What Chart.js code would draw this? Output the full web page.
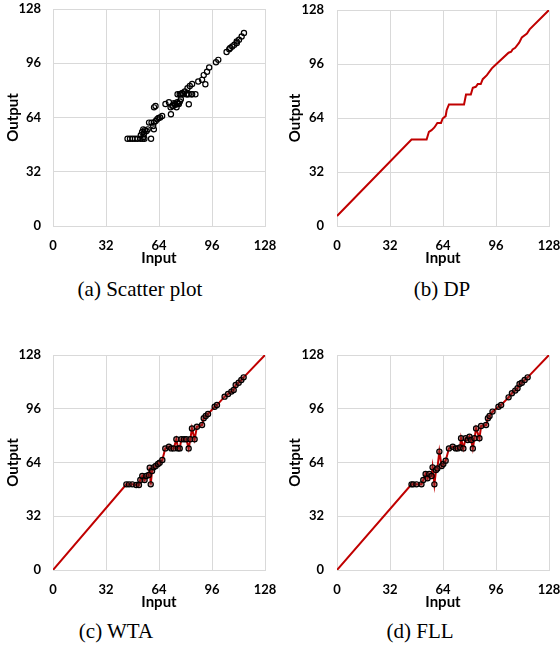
<!DOCTYPE html>
<html>
<head>
<meta charset="utf-8">
<script src="https://cdn.jsdelivr.net/npm/chart.js@4.4.0/dist/chart.umd.min.js"></script>
<style>
body{margin:0;background:#fff;width:560px;height:653px;position:relative;overflow:hidden;}
canvas{position:absolute;}
.cap{position:absolute;font-family:"Liberation Serif","Times New Roman",serif;font-size:21px;color:#000;white-space:nowrap;transform:translateX(-50%);}
</style>
</head>
<body>
<canvas id="cA" width="280" height="270" style="left:0;top:0"></canvas>
<canvas id="cB" width="280" height="270" style="left:280px;top:0"></canvas>
<canvas id="cC" width="280" height="274" style="left:0;top:340px"></canvas>
<canvas id="cD" width="280" height="274" style="left:280px;top:340px"></canvas>
<div class="cap" style="left:140px;top:277px">(a) Scatter plot</div>
<div class="cap" style="left:442px;top:277px">(b) DP</div>
<div class="cap" style="left:116px;top:619px">(c) WTA</div>
<div class="cap" style="left:420px;top:619px">(d) FLL</div>
<script>
// axis ticks (same for all four plots)
var axisMin = 0;
var axisMax = 128;
var axisStep = 32;

// (a) scatter plot: input / output pairs
var scatterX = [45,46.5,48,49.5,51,52.8,54.2,55.2,59.2,
  53,53.8,54.5,55.5,56.5,57.2,54.6,55,
  58,59.5,60.9,60.9,60.5,62,62.9,63.7,64.7,65.9,
  61,61.9,
  67.9,70,71.2,71,72.6,73.6,74.6,75.6,76.6,77.2,72,73,74,75,76,
  75.2,77.2,78.6,79.6,80.6,82,83.6,86,76.5,78,81,84,
  82,81.2,82.6,84,87.7,90,92,91,93,94.3,98.4,99.8,
  104.8,106.4,108.2,109.5,110.9,112.3,113.9,115.3,107,111];
var scatterY = [51.5,51.5,51.5,51.5,51.5,51.5,51.5,51.5,51.5,
  53.5,55.5,57,56.5,56,57,52.5,54.5,
  61,61,61,57,59,62,63,63.7,64,64.9,
  70,70.8,
  72,73,65.9,70,70.8,72,70,72.4,73.4,74.8,71,72.5,71.5,73,72,
  77.7,77.7,77.7,79.3,77.7,77.7,77.7,77.7,77.7,78.5,77.7,77.7,
  71.8,81.3,82.6,83.8,85.2,86.2,83.6,89,91,93.5,96.6,98,
  102.6,104.3,105.9,106.9,108.9,109.9,111.8,113.8,105,108];

// (b) DP mapping curve
var dpX = [0,45,54.1,55.5,57.1,58.8,60.6,62.8,63.8,65.6,
  66.2,67.6,76.7,77.9,80.8,82,83.8,85,86.8,88,
  90.5,93.5,96.1,103.6,105.2,106,107.6,110,111.6,114.7,
  116.3,128];
var dpY = [5.9,51.2,51.2,55.8,56.8,58.4,61.1,61.1,63.7,65.1,
  68.6,72,72,77.9,77.9,81.9,82.5,84.1,84.1,87,
  89.4,93.4,95.9,102.7,103.3,104.6,105.6,108.6,111.8,114.1,
  116.5,128];

// (c) WTA selected points
var wtaX = [44.3,45.9,47.9,50.3,51.9,52.7,53.9,55.3,56.3,57.8,
  58.4,59,59.8,60.8,62,63.4,64.4,66,67.8,70,
  71.4,72.9,74.5,75.5,76.5,77.5,79.1,80.5,81.9,82.9,
  83.9,85.5,86.9,90,91,92.2,93.6,97.6,99,103.6,
  105.7,107.7,109.1,110.3,112.1,113.7,115.1];
var wtaY = [51,51,51,50.6,50.6,53.6,56,53.6,56,56.6,
  60.9,51,58.9,61.1,61.9,63.1,63.9,65.5,72.4,73.4,
  72.4,72.4,77.8,72.4,72.4,77.8,77.8,77.8,72.4,77.8,
  84.3,77.8,85.3,86.3,90.3,91.7,92.9,97.2,98.2,103.2,
  104.8,106.2,107.2,110.1,111.5,113.1,114.7];

// (d) FLL selected points
var fllX = [45,46,48,51,52.1,53.5,54.7,55.7,57.1,57.7,
  58.8,59.8,60.6,61.8,63.2,64.2,65.6,67.6,69.9,71.7,
  72.9,74.3,74.9,76.3,77.7,78.9,80,81,82,83,
  84,86,87,90,91.1,92.1,93.9,97.5,99.1,103.6,
  105.6,107.6,109,110.2,111.6,113.3,115.1];
var fllY = [51,51,51,51,53.6,57.2,54.6,57.2,56,61.1,
  51,59.5,60.5,70.5,61.9,63.1,65.1,72.4,73.4,72.4,
  72.4,73,78.4,72.4,78.4,77.4,79.4,77.4,72.4,78.4,
  84.3,78.4,85.7,86.3,90.3,91.7,94.3,97.2,98.2,102.8,
  105.2,106.8,108.2,110.7,111.5,113.1,114.7];

// mapping line ends for (c) and (d)
var lineStart = [0, 0];
var lineEnd = [128, 128];

var red = '#c00000';
var gridCol = '#d9d9d9';
var tickFont = {family: 'Lato', size: 13, weight: 'bold'};
var titleFont = {family: 'Lato', size: 15, weight: 'bold'};

function pts(xs, ys) {
  var out = [];
  for (var i = 0; i < xs.length; i++) {
    out.push({x: xs[i], y: ys[i]});
  }
  return out;
}

function markerSet(xs, ys, fill) {
  return {
    data: pts(xs, ys),
    showLine: false,
    pointRadius: 2.6,
    pointBorderWidth: 1.2,
    pointBorderColor: '#000',
    pointBackgroundColor: fill
  };
}

function lineSet(xs, ys) {
  return {
    data: pts(xs, ys),
    showLine: true,
    borderColor: red,
    borderWidth: 2,
    pointRadius: 0,
    tension: 0
  };
}

function withEnds(arr, i) {
  return [lineStart[i]].concat(arr).concat([lineEnd[i]]);
}

// plot box is in canvas pixels
function makePanel(id, plot, datasets) {
  var cv = document.getElementById(id);
  var xh = cv.height - plot.bottom;
  return new Chart(cv, {
    type: 'scatter',
    data: {datasets: datasets},
    options: {
      responsive: false,
      animation: false,
      layout: {padding: {left: 0, top: plot.top, right: cv.width - plot.right, bottom: 0}},
      plugins: {legend: {display: false}, tooltip: {enabled: false}},
      scales: {
        x: {
          type: 'linear', min: axisMin, max: axisMax,
          ticks: {stepSize: axisStep, padding: 12, color: '#000', font: tickFont, maxRotation: 0},
          grid: {color: gridCol, drawTicks: false},
          border: {color: gridCol},
          title: {display: true, text: 'Input', color: '#000', font: titleFont,
                  padding: {top: 0, bottom: xh - 32.5 - 9}},
          afterFit: function (s) { s.height = xh; s.paddingLeft = 0; s.paddingRight = 0; }
        },
        y: {
          type: 'linear', min: axisMin, max: axisMax,
          ticks: {stepSize: axisStep, padding: plot.gap, color: '#000', font: tickFont},
          grid: {color: gridCol, drawTicks: false},
          border: {color: gridCol},
          title: {display: true, text: 'Output', color: '#000', font: titleFont,
                  padding: {top: plot.titleX - 9, bottom: 0}},
          afterFit: function (s) { s.width = plot.left; s.paddingTop = 0; s.paddingBottom = 0; }
        }
      }
    }
  });
}

makePanel('cA', {left: 53, right: 265, top: 9, bottom: 226, gap: 12, titleX: 13},
  [markerSet(scatterX, scatterY, 'rgba(255,255,255,0)')]);

makePanel('cB', {left: 57, right: 269, top: 10, bottom: 226, gap: 13, titleX: 15},
  [lineSet(dpX, dpY)]);

makePanel('cC', {left: 53, right: 265, top: 15, bottom: 230, gap: 12, titleX: 13},
  [markerSet(wtaX, wtaY, 'rgba(140,40,40,0.5)'), lineSet(withEnds(wtaX, 0), withEnds(wtaY, 1))]);

makePanel('cD', {left: 57, right: 269, top: 15, bottom: 230, gap: 13, titleX: 15},
  [markerSet(fllX, fllY, 'rgba(140,40,40,0.5)'), lineSet(withEnds(fllX, 0), withEnds(fllY, 1))]);
</script>
</body>
</html>
